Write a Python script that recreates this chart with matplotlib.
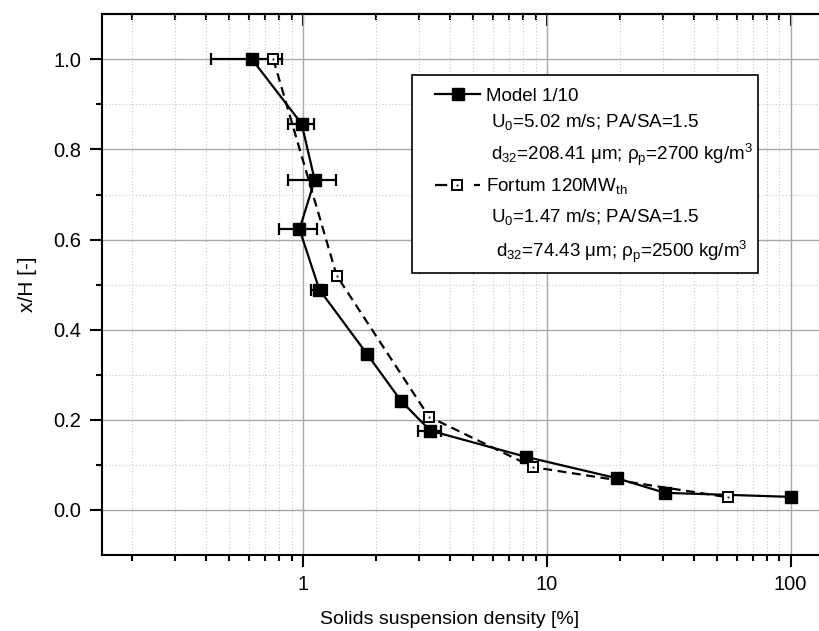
import matplotlib
matplotlib.use("Agg")
import matplotlib.pyplot as plt
from matplotlib.lines import Line2D
from matplotlib.patches import Rectangle
from matplotlib.ticker import LogLocator, FixedLocator, NullFormatter, FuncFormatter

plt.rcParams['font.family'] = ['Liberation Sans', 'DejaVu Sans']
plt.rcParams['mathtext.fontset'] = 'custom'
plt.rcParams['mathtext.rm'] = 'Liberation Sans'
plt.rcParams['mathtext.it'] = 'Liberation Sans:italic'
plt.rcParams['mathtext.bf'] = 'Liberation Sans:bold'

# ---- data ----
model_x = [0.62, 0.99, 1.12, 0.97, 1.17, 1.83, 2.53, 3.33, 8.2, 19.5, 30.5, 100]
model_y = [1.0, 0.857, 0.732, 0.623, 0.489, 0.347, 0.242, 0.176, 0.118, 0.070, 0.038, 0.029]
model_xerr = [0.2, 0.12, 0.25, 0.17, 0.09, 0.08, 0.0, 0.37, 0.0, 0.0, 0.0, 0.0]

fortum_x = [0.758, 1.378, 3.29, 8.8, 55.5]
fortum_y = [1.0, 0.52, 0.207, 0.095, 0.028]

x_ticks = [1, 10, 100]
x_ticklabels = ['1', '10', '100']
y_ticks = [0.0, 0.2, 0.4, 0.6, 0.8, 1.0]

W, H = 820, 631
fig = plt.figure(figsize=(W / 100, H / 100), dpi=100)

def fx(px):
    return px / W

def fy(py):
    return 1 - py / H

left, right, top, bottom = 101.7, 833.6, 14.3, 555.0
ax = fig.add_axes([fx(left), fy(bottom), (right - left) / W, (bottom - top) / H])
ax.set_xscale('log')
ax.set_xlim(0.15, 150)
ax.set_ylim(-0.1, 1.1)

ax.set_axisbelow(True)
ax.xaxis.set_major_locator(FixedLocator(x_ticks))
ax.xaxis.set_major_formatter(FuncFormatter(
    lambda v, p: dict(zip(x_ticks, x_ticklabels)).get(round(v), '')))
ax.xaxis.set_minor_locator(LogLocator(base=10, subs=range(2, 10)))
ax.xaxis.set_minor_formatter(NullFormatter())
ax.yaxis.set_major_locator(FixedLocator(y_ticks))
ax.yaxis.set_major_formatter(FuncFormatter(lambda v, p: f'{v:.1f}'))
ax.yaxis.set_minor_locator(FixedLocator([0.1, 0.3, 0.5, 0.7, 0.9]))
ax.grid(True, which='major', color='#a8a8a8', linewidth=1.0, linestyle='-')
ax.grid(True, which='minor', color='#c8c8c8', linewidth=0.8, linestyle=(0, (1, 2)))

for s in ax.spines.values():
    s.set_linewidth(1.5)
    s.set_color('black')

ax.tick_params(axis='both', which='major', direction='out', length=8.5, width=1.5,
               labelsize=14.5, pad=6, top=False, right=False)
ax.tick_params(axis='both', which='minor', direction='out', length=4.3, width=1.5,
               top=False, right=False)
sec = ax.secondary_xaxis('top')
sec.set_xticks(x_ticks)
sec.xaxis.set_minor_locator(LogLocator(base=10, subs=range(2, 10)))
sec.xaxis.set_minor_formatter(NullFormatter())
sec.tick_params(which='major', direction='in', length=8.5, width=1.5, labeltop=False)
sec.tick_params(which='minor', direction='in', length=4.3, width=1.5)
sec.spines['top'].set_linewidth(1.5)

ax.set_xlabel('Solids suspension density [%]', fontsize=14, labelpad=12)
ax.set_ylabel('x/H [-]', fontsize=15, labelpad=12)
ax.xaxis.label.set_position(((450 - left) / (right - left), 0))

# data
ax.errorbar(model_x, model_y, xerr=model_xerr, fmt='-s', color='black', lw=1.6,
            ms=8.4, mfc='black', mec='black', elinewidth=1.6, capsize=4.3,
            capthick=1.6, zorder=3)
ax.plot(fortum_x, fortum_y, linestyle=(0, (4, 2.5)), color='black', lw=1.6,
        marker='s', ms=7.2, mfc='white', mec='black', mew=1.4, zorder=4)
ax.plot(fortum_x, fortum_y, linestyle='none', marker='s', ms=1.3, mfc='black',
        mec='black', mew=0, zorder=5)

# legend (manual)
fig.patches.append(Rectangle((fx(411.7), fy(273.3)), (758 - 411.7) / W, (273.3 - 75) / H,
                             transform=fig.transFigure, fill=True, facecolor='white',
                             edgecolor='black', linewidth=1.2, zorder=10))
ly1, ly2 = 94, 185
fig.lines.append(Line2D([fx(435), fx(480)], [fy(ly1), fy(ly1)], transform=fig.transFigure,
                        color='black', lw=1.6, zorder=11))
fig.lines.append(Line2D([fx(458)], [fy(ly1)], transform=fig.transFigure, marker='s',
                        ms=8.4, color='black', zorder=12))
fig.lines.append(Line2D([fx(435), fx(480)], [fy(ly2), fy(ly2)], transform=fig.transFigure,
                        color='black', lw=1.6, linestyle=(0, (5.5, 12)), zorder=11))
fig.lines.append(Line2D([fx(457)], [fy(ly2)], transform=fig.transFigure, marker='s',
                        ms=7.2, mfc='white', mec='black', mew=1.4, zorder=12))
fig.lines.append(Line2D([fx(457)], [fy(ly2)], transform=fig.transFigure, marker='s',
                        ms=1.3, mfc='black', mec='black', mew=0, zorder=13))

fs = 13.5
txts = [
    (486, 100.7, 'Model 1/10'),
    (491, 126.7, 'U$_\\mathrm{0}$=5.02 m/s; PA/SA=1.5'),
    (491, 160.0, 'd$_\\mathrm{32}$=208.41 μm; ρ$_\\mathrm{p}$=2700 kg/m$^\\mathrm{3}$'),
    (486, 190.7, 'Fortum 120MW$_\\mathrm{th}$'),
    (491, 221.7, 'U$_\\mathrm{0}$=1.47 m/s; PA/SA=1.5'),
    (496, 256.7, 'd$_\\mathrm{32}$=74.43 μm; ρ$_\\mathrm{p}$=2500 kg/m$^\\mathrm{3}$'),
]
for x, y, t in txts:
    fig.text(fx(x), fy(y), t, fontsize=fs, ha='left', va='baseline', zorder=14)

fig.savefig('out.png', dpi=100)
